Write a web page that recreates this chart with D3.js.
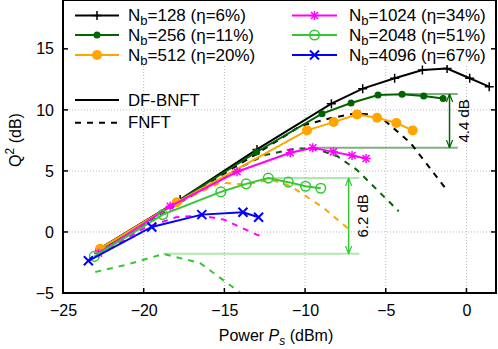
<!DOCTYPE html>
<html><head><meta charset="utf-8">
<script src="https://cdn.jsdelivr.net/npm/d3@7/dist/d3.min.js"></script>
<style>body{margin:0;background:#fff}svg{display:block}</style>
</head><body><svg id="c" width="498" height="349"></svg>
<script>
// ---- data ----
const xTicks = [-25, -20, -15, -10, -5, 0];
const yTicks = [-5, 0, 5, 10, 15];
const seriesNames = ["128 (η=6%)", "256 (η=11%)", "512 (η=20%)", "1024 (η=34%)", "2048 (η=51%)", "4096 (η=67%)"];
const colors = ["#000000", "#006400", "#ffa500", "#ff00ff", "#33c833", "#0000ff"];
const markers = ["plus", "dot", "bigdot", "star", "ring", "cross"];

const bnft128 = [[-22.7,-1.35],[-17.74,2.65],[-12.98,6.76],[-8.37,10.51],[-6.43,11.74],[-4.45,12.59],[-2.73,13.27],[-1.2,13.38],[0.2,12.59],[1.41,11.9]];
const bnft256 = [[-22.7,-1.45],[-17.9,2.5],[-13.0,6.55],[-8.95,9.69],[-7.15,10.56],[-5.48,11.22],[-3.99,11.27],[-2.65,11.13],[-1.45,10.94]];
const bnft512 = [[-22.7,-1.37],[-17.95,2.43],[-9.88,8.32],[-8.23,9.0],[-6.78,9.63],[-5.54,9.36],[-4.34,8.92],[-3.33,8.32]];
const bnft1024 = [[-22.8,-1.75],[-18.36,2.1],[-14.22,4.93],[-10.92,6.49],[-9.52,6.9],[-8.25,6.56],[-7.09,6.26],[-6.22,6.02]];
const bnft2048 = [[-23.06,-2.0],[-18.82,1.42],[-15.22,3.28],[-13.65,3.94],[-12.28,4.41],[-11.04,4.08],[-9.97,3.74],[-9.03,3.58]];
const bnft4096 = [[-23.43,-2.36],[-19.5,0.41],[-16.4,1.42],[-13.85,1.61],[-12.88,1.2]];

const fnft128 = [[-22.8,-1.5],[-18,2.4],[-13,6.4],[-10.3,8.67],[-8.5,9.3],[-7.0,9.69],[-6.16,9.64],[-5.13,9.2],[-3.47,7.3],[-1.2,3.4]];
const fnft256 = [[-22.8,-1.65],[-18,2.2],[-14,5.3],[-12.5,6.3],[-10.5,6.85],[-9.3,6.8],[-8.0,6.2],[-6.8,5.1],[-4.2,1.7]];
const fnft512 = [[-22.8,-1.45],[-18,2.3],[-15.26,4.03],[-13.6,3.88],[-12.16,4.3],[-10.9,3.76],[-8.85,1.97],[-7.26,0.19]];
const fnft1024 = [[-22.8,-1.9],[-20,0.3],[-18,1.2],[-16.5,1.35],[-15,1.0],[-13,-0.22],[-12.64,-0.36]];
const fnft2048 = [[-23,-3.28],[-21.05,-2.68],[-20,-2.27],[-18.78,-1.8],[-16.5,-2.55],[-14.12,-4.87],[-14.0,-5.0]];

const gapLabels = ["4.4 dB", "6.2 dB"];
// [x top start, y top, x bottom start, y bottom, x end, x arrow]
const gap1 = [-4.0, 11.3, -9.5, 6.9, -0.54, -1.05];
const gap2 = [-12.3, 4.41, -18.8, -1.78, -6.64, -7.3];

// ---- drawing ----
const svg = d3.select("#c");
const x = d3.scaleLinear().domain([-25, 1.83]).range([63, 496]);
const y = d3.scaleLinear().domain([-5, 19]).range([293, 0]);
const FONT = "Liberation Sans, Arial, Helvetica, sans-serif";

// grid
const grid = svg.append("g").attr("stroke", "#bbb").attr("stroke-width", 1).attr("stroke-dasharray", "1,2");
xTicks.slice(1).forEach(t => grid.append("line").attr("x1", x(t)).attr("x2", x(t)).attr("y1", 0).attr("y2", 293));
yTicks.slice(1).forEach(t => grid.append("line").attr("x1", 63).attr("x2", 496).attr("y1", y(t)).attr("y2", y(t)));

svg.append("clipPath").attr("id", "pc").append("rect").attr("x", 63).attr("y", 0).attr("width", 433).attr("height", 293);
const plot = svg.append("g").attr("clip-path", "url(#pc)");

const line = d3.line().x(d => x(d[0])).y(d => y(d[1]));

// annotation lines
function gap(g, col, op) {
  plot.append("line").attr("x1", x(g[0])).attr("x2", x(g[4])).attr("y1", y(g[1])).attr("y2", y(g[1])).attr("stroke", col).attr("stroke-opacity", op).attr("stroke-width", 2);
  plot.append("line").attr("x1", x(g[2])).attr("x2", x(g[4])).attr("y1", y(g[3])).attr("y2", y(g[3])).attr("stroke", col).attr("stroke-opacity", op).attr("stroke-width", 2);
}
gap(gap1, "#006400", 0.5);
gap(gap2, "#33c833", 0.4);

const fnfts = [fnft128, fnft256, fnft512, fnft1024, fnft2048];
fnfts.forEach((s, i) => {
  plot.append("path").attr("d", line(s)).attr("fill", "none").attr("stroke", colors[i]).attr("stroke-width", 2).attr("stroke-dasharray", "6,6");
});

function marker(g, type, cx, cy, col) {
  const h = 4.5;
  if (type === "plus" || type === "star") {
    g.append("path").attr("d", `M${cx-h},${cy}H${cx+h}M${cx},${cy-h}V${cy+h}`).attr("stroke", col).attr("stroke-width", 1.5);
  }
  if (type === "cross" || type === "star") {
    const k = type === "star" ? 3.5 : 4.5;
    g.append("path").attr("d", `M${cx-k},${cy-k}L${cx+k},${cy+k}M${cx-k},${cy+k}L${cx+k},${cy-k}`).attr("stroke", col).attr("stroke-width", type === "star" ? 1.5 : 2);
  }
  if (type === "dot") g.append("circle").attr("cx", cx).attr("cy", cy).attr("r", 3.5).attr("fill", col);
  if (type === "bigdot") g.append("circle").attr("cx", cx).attr("cy", cy).attr("r", 5).attr("fill", col);
  if (type === "ring") g.append("circle").attr("cx", cx).attr("cy", cy).attr("r", 4.8).attr("fill", "none").attr("stroke", col).attr("stroke-width", 1.5);
}

const bnfts = [bnft128, bnft256, bnft512, bnft1024, bnft2048, bnft4096];
bnfts.forEach((s, i) => {
  plot.append("path").attr("d", line(s)).attr("fill", "none").attr("stroke", colors[i]).attr("stroke-width", 2);
  s.forEach(d => marker(plot, markers[i], x(d[0]), y(d[1]), colors[i]));
});

// arrows
const defs = svg.append("defs");
function arrowDef(id, col) {
  defs.append("marker").attr("id", id).attr("viewBox", "0 0 10 10").attr("refX", 10).attr("refY", 5)
    .attr("markerWidth", 8).attr("markerHeight", 8).attr("markerUnits", "userSpaceOnUse").attr("orient", "auto-start-reverse")
    .append("path").attr("d", "M0,1L10,5L0,9").attr("fill", "none").attr("stroke", col).attr("stroke-width", 1.5);
}
arrowDef("a1", "#006400");
arrowDef("a2", "#33c833");
function arrow(g, col, id, label) {
  svg.append("line").attr("x1", x(g[5])).attr("x2", x(g[5])).attr("y1", y(g[1])).attr("y2", y(g[3]))
    .attr("stroke", col).attr("stroke-width", 1.5).attr("marker-start", `url(#${id})`).attr("marker-end", `url(#${id})`);
  const cx = x(g[5]) + 14, cy = (y(g[1]) + y(g[3])) / 2;
  svg.append("text").attr("transform", `translate(${cx},${cy}) rotate(-90)`).attr("text-anchor", "middle")
    .attr("dy", "0.35em").attr("font-family", FONT).attr("font-size", 15).attr("fill", "#000").text(label);
}
arrow(gap1, "#006400", "a1", gapLabels[0]);
arrow(gap2, "#33c833", "a2", gapLabels[1]);

// legend box (opaque)
svg.append("rect").attr("x", 64).attr("y", 0).attr("width", 431).attr("height", 65).attr("fill", "#fff");
const legCols = [[75, 119, 128], [292, 337, 349]];
const legRows = [15.5, 35, 55];
seriesNames.forEach((nm, i) => {
  const c = legCols[Math.floor(i / 3)], yy = legRows[i % 3];
  svg.append("line").attr("x1", c[0]).attr("x2", c[1]).attr("y1", yy).attr("y2", yy).attr("stroke", colors[i]).attr("stroke-width", 2);
  marker(svg, markers[i], (c[0] + c[1]) / 2, yy, colors[i]);
  const t = svg.append("text").attr("x", c[2]).attr("y", yy + 5.5).attr("font-family", FONT).attr("font-size", 17).attr("fill", "#000");
  t.append("tspan").text("N");
  t.append("tspan").attr("dy", 4).attr("font-size", 13).text("b");
  t.append("tspan").attr("dy", -4).text("=" + nm);
});
const methods = ["DF-BNFT", "FNFT"];
const methRows = [100, 122.7];
methods.forEach((m, i) => {
  svg.append("line").attr("x1", 75).attr("x2", 119).attr("y1", methRows[i]).attr("y2", methRows[i]).attr("stroke", "#000").attr("stroke-width", 2)
    .attr("stroke-dasharray", i ? "6,6" : null);
  svg.append("text").attr("x", 128).attr("y", methRows[i] + 5.5).attr("font-family", FONT).attr("font-size", 16.8).text(m);
});

// frame
svg.append("rect").attr("x", 63).attr("y", 0).attr("width", 433).attr("height", 293).attr("fill", "none").attr("stroke", "#000").attr("stroke-width", 2);
// ticks
const tk = svg.append("g").attr("stroke", "#000").attr("stroke-width", 1.5);
xTicks.forEach(t => { tk.append("line").attr("x1", x(t)).attr("x2", x(t)).attr("y1", 293).attr("y2", 288); });
yTicks.forEach(t => {
  tk.append("line").attr("x1", 63).attr("x2", 68).attr("y1", y(t)).attr("y2", y(t));
  tk.append("line").attr("x1", 496).attr("x2", 491).attr("y1", y(t)).attr("y2", y(t));
});
const axX = d3.axisBottom(x).tickValues(xTicks).tickSize(0).tickPadding(0);
const axY = d3.axisLeft(y).tickValues(yTicks).tickSize(0).tickPadding(0);
const gx = svg.append("g").attr("transform", "translate(0,305)").call(axX);
const gy = svg.append("g").attr("transform", "translate(54,0)").call(axY);
[gx, gy].forEach(g => { g.select(".domain").remove(); g.selectAll("text").attr("font-family", FONT).attr("font-size", 16).attr("fill", "#000"); });
gx.selectAll("text").attr("dy", "0.71em");

// axis titles
const xt = svg.append("text").attr("x", 276).attr("y", 341).attr("text-anchor", "middle").attr("font-family", FONT).attr("font-size", 16);
xt.append("tspan").text("Power ");
xt.append("tspan").attr("font-style", "italic").text("P");
xt.append("tspan").attr("font-style", "italic").attr("font-size", 12).attr("dy", 4).text("s");
xt.append("tspan").attr("dy", -4).text(" (dBm)");
const yt = svg.append("text").attr("transform", "translate(21,140) rotate(-90)").attr("text-anchor", "middle").attr("font-family", FONT).attr("font-size", 16);
yt.append("tspan").text("Q");
yt.append("tspan").attr("font-size", 12).attr("dy", -7).text("2");
yt.append("tspan").attr("dy", 7).text(" (dB)");
</script></body></html>
